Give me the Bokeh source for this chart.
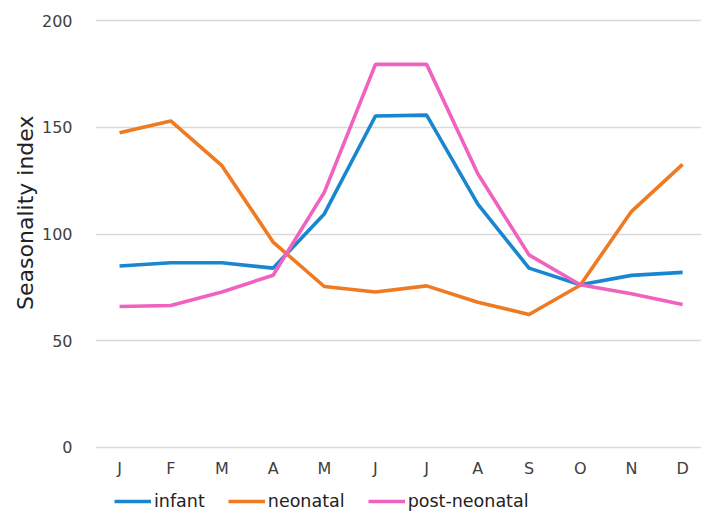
from bokeh.plotting import figure
from bokeh.models import FixedTicker, Legend, LegendItem, Range1d, Title
from bokeh.layouts import column
from bokeh.embed import file_html
from bokeh.resources import INLINE

months = ["J", "F", "M", "A", "M", "J", "J", "A", "S", "O", "N", "D"]
infant = [85, 86.5, 86.5, 84, 109.4, 155.3, 155.7, 114, 84, 76.2, 80.6, 82]
neonatal = [147.5, 153, 132, 96.2, 75.4, 72.8, 75.7, 68, 62.3, 76, 110.5, 132.6]
post_neonatal = [66, 66.5, 72.8, 80.7, 119.5, 179.5, 179.5, 128.2, 90.2, 76.2, 72, 67]
series_names = ["infant", "neonatal", "post-neonatal"]
yticks = [0, 50, 100, 150, 200]

x = list(range(len(months)))
FONT = "DejaVu Sans"
TXT = "#404040"
colors = ["#1a86d0", "#ef7a22", "#ef62bf"]

p = figure(width=701, height=480, output_backend="svg", toolbar_location=None,
           x_range=Range1d(-0.47, 11.37), y_range=Range1d(-1, 201),
           min_border_left=95, min_border_right=0, min_border_top=18, min_border_bottom=31)
p.outline_line_color = None
p.background_fill_color = "white"

for ys, c in zip([infant, neonatal, post_neonatal], colors):
    p.line(x, ys, line_color=c, line_width=3.6)

p.xgrid.grid_line_color = None
p.ygrid.grid_line_color = "#d9d9d9"
p.ygrid.grid_line_width = 1.5
p.yaxis.ticker = FixedTicker(ticks=yticks)
p.xaxis.ticker = FixedTicker(ticks=x)
p.xaxis.major_label_overrides = {i: m for i, m in enumerate(months)}

for ax in (p.xaxis[0], p.yaxis[0]):
    ax.axis_line_color = None
    ax.major_tick_line_color = None
    ax.minor_tick_line_color = None
    ax.major_label_text_font = FONT
    ax.major_label_text_font_size = "16px"
    ax.major_label_text_color = TXT

p.yaxis.major_label_standoff = 17
p.xaxis.major_label_standoff = 3

ytitle = Title(text="Seasonality index", align="right", offset=97, standoff=2,
               text_font=FONT, text_font_size="22px", text_font_style="normal",
               text_color="#222222")
p.add_layout(ytitle, "left")

# legend strip below the chart
pl = figure(width=701, height=36, output_backend="svg", toolbar_location=None,
            x_range=Range1d(0, 1), y_range=Range1d(0, 1), min_border=0)
pl.axis.visible = False
pl.grid.visible = False
pl.outline_line_color = None
items = []
for name, c in zip(series_names, colors):
    r = pl.line([-2, -1], [-2, -2], line_color=c, line_width=3.6)
    items.append(LegendItem(label=name, renderers=[r]))
legend = Legend(items=items, orientation="horizontal", location=(19, 5),
                glyph_width=37, glyph_height=20, label_standoff=3, spacing=23,
                padding=2, margin=0, border_line_color=None, background_fill_alpha=0,
                label_text_font=FONT, label_text_font_size="17.5px", label_text_color="#222222")
pl.add_layout(legend, "center")

layout = column(p, pl, spacing=0)
open("out.html", "w").write(file_html(layout, INLINE))
